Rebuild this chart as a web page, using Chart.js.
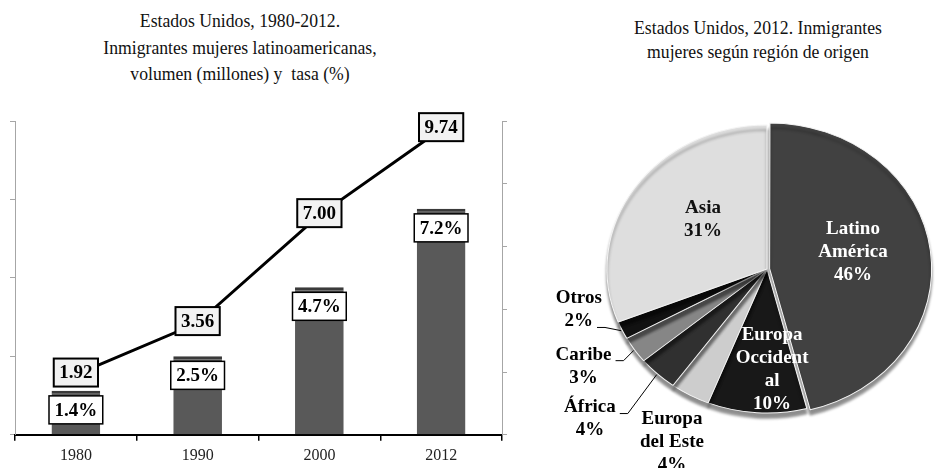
<!DOCTYPE html>
<html>
<head>
<meta charset="utf-8">
<script src="https://cdn.jsdelivr.net/npm/chart.js@4.4.0/dist/chart.umd.min.js"></script>
<style>
body{margin:0;background:#fff;width:938px;height:468px;position:relative;overflow:hidden;font-family:"Liberation Serif",serif;}
.titulo{position:absolute;text-align:center;font-size:19px;color:#111;transform:scaleX(0.93);}
#t1{left:40px;width:400px;top:8px;line-height:26.5px;}
#t2{left:568px;width:380px;top:16px;line-height:24px;}
#c1{position:absolute;left:0;top:100px;}
#c2{position:absolute;left:540px;top:100px;}
</style>
</head>
<body>
<div class="titulo" id="t1">Estados Unidos, 1980-2012.<br>Inmigrantes mujeres latinoamericanas,<br>volumen (millones) y&nbsp; tasa (%)</div>
<div class="titulo" id="t2">Estados Unidos, 2012. Inmigrantes<br>mujeres según región de origen</div>
<canvas id="c1" width="540" height="372"></canvas>
<canvas id="c2" width="398" height="368"></canvas>
<script>
// datos
var anios = ['1980', '1990', '2000', '2012'];
var volumen = [1.92, 3.56, 7.00, 9.74];   // millones
var tasa = [1.4, 2.5, 4.7, 7.2];          // %
var regiones = [['Latino', 'América'], ['Europa', 'Occident', 'al'], ['Europa', 'del Este'], ['África'], ['Caribe'], ['Otros'], ['Asia']];
var porcentajes = [46, 10, 4, 4, 3, 2, 31];

var fuente = '"Liberation Serif", "Times New Roman", serif';

function caja(ctx, texto, cx, cy, relleno, borde) {
    var w = ctx.measureText(texto).width + 11;
    var h = 28;
    ctx.fillStyle = relleno;
    ctx.fillRect(cx - w / 2, cy - h / 2, w, h);
    ctx.lineWidth = borde;
    ctx.strokeStyle = '#000';
    ctx.strokeRect(cx - w / 2, cy - h / 2, w, h);
    ctx.fillStyle = '#000';
    ctx.fillText(texto, cx, cy + 1);
}

var etiquetasBarras = {
    id: 'etiquetasBarras',
    afterDatasetsDraw: function (chart) {
        var ctx = chart.ctx;
        ctx.save();
        ctx.font = 'bold 19px ' + fuente;
        ctx.textAlign = 'center';
        ctx.textBaseline = 'middle';
        chart.getDatasetMeta(1).data.forEach(function (bar, i) {
            caja(ctx, tasa[i].toFixed(1) + '%', bar.x, bar.y + 19, '#fff', 1.5);
        });
        chart.getDatasetMeta(0).data.forEach(function (pt, i) {
            caja(ctx, volumen[i].toFixed(2), pt.x, pt.y - 2, '#f2f2f2', 2);
        });
        ctx.restore();
    }
};

new Chart(document.getElementById('c1').getContext('2d'), {
    data: {
        labels: anios,
        datasets: [{
            type: 'line',
            data: volumen,
            yAxisID: 'y',
            borderColor: '#000',
            borderWidth: 3,
            pointRadius: 0,
            tension: 0,
            order: 0
        }, {
            type: 'bar',
            data: tasa,
            yAxisID: 'y1',
            backgroundColor: '#595959',
            borderColor: '#3a3a3a',
            borderWidth: {top: 3, left: 0, right: 0, bottom: 0},
            barPercentage: 0.4,
            categoryPercentage: 1,
            order: 1
        }]
    },
    options: {
        responsive: false,
        animation: false,
        layout: {padding: {left: 10, right: 33, top: 21, bottom: 2}},
        plugins: {legend: {display: false}, tooltip: {enabled: false}},
        scales: {
            x: {
                offset: true,
                grid: {drawOnChartArea: false, offset: true, tickLength: 6, color: '#000', lineWidth: 1.5},
                border: {color: '#000', width: 2},
                ticks: {color: '#222', padding: 5, font: {family: fuente, size: 16}}
            },
            y: {
                position: 'left', min: 0, max: 10,
                ticks: {display: false, stepSize: 2.5},
                grid: {drawOnChartArea: false, tickLength: 5, color: '#a6a6a6'},
                border: {color: '#a6a6a6'}
            },
            y1: {
                position: 'right', min: 0, max: 10,
                ticks: {display: false, stepSize: 2},
                grid: {drawOnChartArea: false, tickLength: 5, color: '#a6a6a6'},
                border: {color: '#a6a6a6'}
            }
        }
    },
    plugins: [etiquetasBarras]
});

// pastel algo achatado, como en el original en 3D
var escX = 1.053, escY = 0.947;

// posicion de las etiquetas del pastel (radio relativo, giro en grados, color, linea guia)
var posEtiquetas = [
    {r: 0.55, giro: -5.2, color: '#fff'},
    {r: 0.70, giro: -6.2, color: '#fff'},
    {r: 1.34, giro: -2.5, color: '#000'},
    {r: 1.52, giro: 3.5, color: '#000', guia: 0},
    {r: 1.33, giro: 3.7, color: '#000', guia: 0},
    {r: 1.21, giro: 11.6, color: '#000', guia: 1},
    {r: 0.525, giro: 6.2, color: '#111'}
];

var perspectiva = {
    id: 'perspectiva',
    beforeDatasetsDraw: function (chart) {
        var ctx = chart.ctx;
        var c = chart.getDatasetMeta(0).data[0];
        ctx.save();
        ctx.translate(c.x, c.y);
        ctx.scale(escX, escY);
        ctx.translate(-c.x, -c.y);
        ctx.shadowColor = 'rgba(0,0,0,0.45)';
        ctx.shadowOffsetY = 5;
        ctx.shadowBlur = 3;
    },
    afterDatasetsDraw: function (chart) {
        chart.ctx.restore();
    }
};

var etiquetasPastel = {
    id: 'etiquetasPastel',
    afterDatasetsDraw: function (chart) {
        var ctx = chart.ctx;
        ctx.save();
        ctx.font = 'bold 19px ' + fuente;
        ctx.textAlign = 'center';
        ctx.textBaseline = 'middle';
        chart.getDatasetMeta(0).data.forEach(function (arc, i) {
            var p = posEtiquetas[i];
            var medio = (arc.startAngle + arc.endAngle) / 2;
            var a = medio + p.giro * Math.PI / 180;
            var rr = arc.outerRadius * p.r;
            var lx = arc.x + rr * Math.cos(a) * escX;
            var ly = arc.y + rr * Math.sin(a) * escY;
            var lineas = regiones[i].concat([porcentajes[i] + '%']);
            var alto = 23;
            var y0 = ly - (lineas.length - 1) * alto / 2;
            ctx.fillStyle = p.color;
            lineas.forEach(function (t, k) {
                ctx.fillText(t, lx, y0 + k * alto);
            });
            if (p.guia !== undefined) {
                var gy = y0 + p.guia * alto + 6;
                var gx = lx + ctx.measureText(lineas[p.guia]).width / 2 + 4;
                var ex = arc.x + (arc.outerRadius + 1) * Math.cos(medio) * escX;
                var ey = arc.y + (arc.outerRadius + 1) * Math.sin(medio) * escY;
                ctx.strokeStyle = '#000';
                ctx.lineWidth = 1;
                ctx.beginPath();
                ctx.moveTo(gx, gy);
                ctx.lineTo(gx + 8, gy);
                ctx.lineTo(ex, ey);
                ctx.stroke();
            }
        });
        ctx.restore();
    }
};

new Chart(document.getElementById('c2').getContext('2d'), {
    type: 'pie',
    data: {
        labels: regiones.map(function (r) { return r.join(' '); }),
        datasets: [{
            data: porcentajes,
            backgroundColor: ['#414141', '#181818', '#cdcdcd', '#303030', '#868686', '#121212', '#dedede'],
            borderColor: '#f4f4f4',
            borderWidth: 1,
            offset: [10, 0, 0, 0, 0, 0, 0],
            radius: 152
        }]
    },
    options: {
        responsive: false,
        animation: false,
        layout: {padding: {left: 56, right: 0, top: 0, bottom: 30}},
        plugins: {legend: {display: false}, tooltip: {enabled: false}}
    },
    plugins: [perspectiva, etiquetasPastel]
});
</script>
</body>
</html>
